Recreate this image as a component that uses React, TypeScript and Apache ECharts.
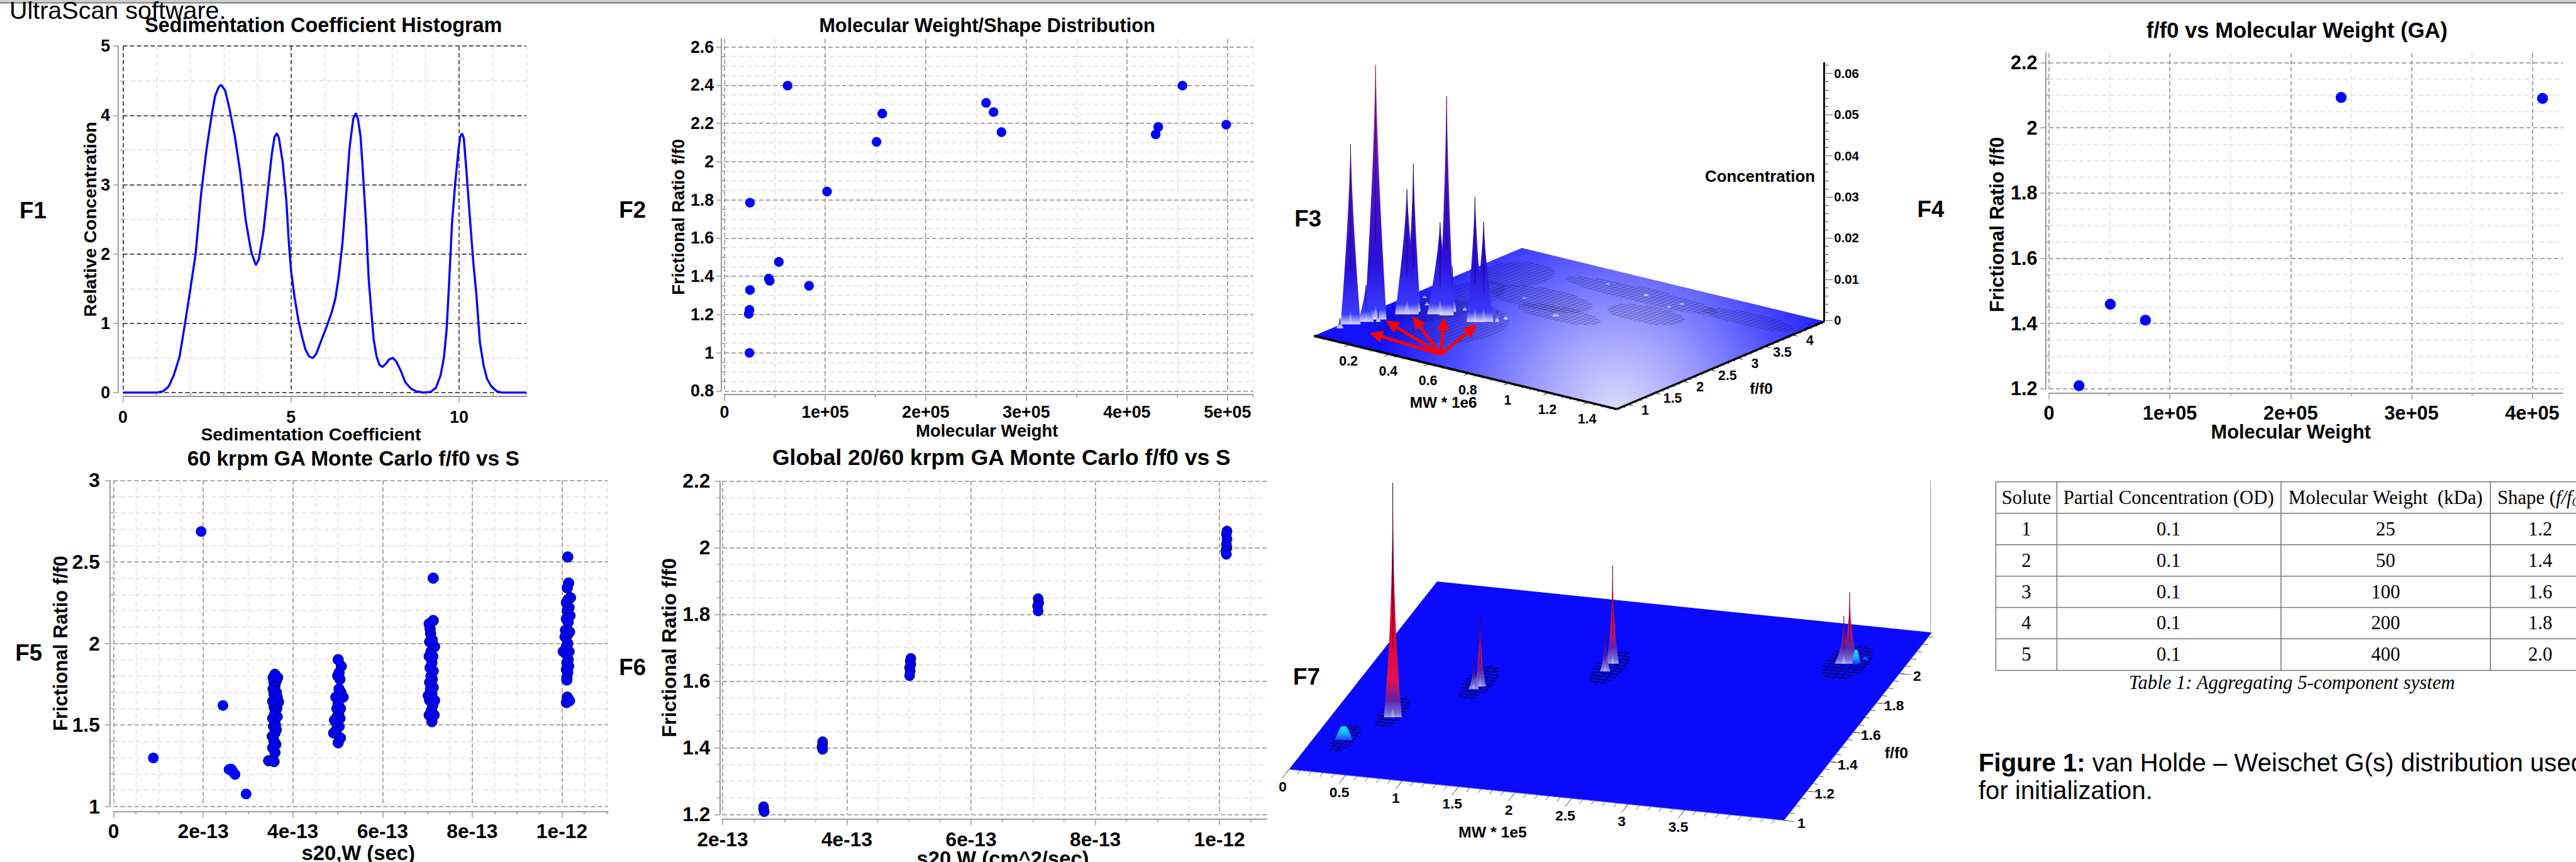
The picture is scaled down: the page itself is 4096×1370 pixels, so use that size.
import React, { useEffect, useRef } from "react";
import * as echarts from "echarts";

const S = 4096 / 4126;
const SANS = "Liberation Sans";
const SERIF = "Liberation Serif";
const BLUE = "#0000ff";

// ---------- F1 : sedimentation coefficient histogram ----------
const f1S = [0,1,1.2,1.36,1.51,1.68,1.84,2,2.16,2.32,2.48,2.64,2.74,2.85,2.92,3.04,3.17,3.33,3.49,3.65,3.81,3.95,4.04,4.18,4.32,4.43,4.51,4.58,4.64,4.75,4.86,4.93,5,5.11,5.22,5.33,5.43,5.54,5.65,5.75,5.89,6.05,6.21,6.32,6.42,6.53,6.64,6.74,6.85,6.93,6.99,7.07,7.14,7.23,7.31,7.39,7.46,7.55,7.63,7.72,7.81,7.92,8.03,8.13,8.27,8.4,8.56,8.72,8.93,9.15,9.31,9.45,9.55,9.63,9.7,9.79,9.89,9.98,10.03,10.09,10.14,10.21,10.32,10.43,10.51,10.62,10.73,10.83,10.96,11.12,11.28,12];
const f1Conc = [0,0,0.02,0.09,0.25,0.51,0.98,1.48,2,2.85,3.49,4.01,4.28,4.41,4.44,4.36,4.09,3.69,3.17,2.49,2.04,1.84,1.92,2.33,2.97,3.45,3.69,3.74,3.67,3.33,2.77,2.2,1.76,1.36,1.04,0.8,0.62,0.52,0.5,0.56,0.74,0.94,1.16,1.36,1.68,2.16,2.85,3.53,3.95,4.03,3.95,3.69,3.17,2.45,1.64,1.16,0.76,0.51,0.4,0.37,0.41,0.48,0.5,0.45,0.31,0.15,0.06,0.02,0,0.01,0.07,0.25,0.51,0.92,1.56,2.45,3.05,3.49,3.69,3.74,3.67,3.25,2.53,1.84,1.44,0.72,0.39,0.2,0.09,0.02,0,0];
const f1XMajor = [0,5,10];
const f1XMinor = [1,2,3,4,6,7,8,9,11,12];
const f1YMajor = [0,1,2,3,4,5];
const f1YMinor = [0.5,1.5,2.5,3.5,4.5];

// ---------- F2 : molecular weight / shape distribution ----------
const f2Mw = [62700,156800,260000,267400,275300,151100,428600,431200,455200,498700,101900,25300,54000,44000,44900,84000,25300,24800,24000,24800];
const f2Ff0 = [2.397,2.251,2.307,2.259,2.154,2.103,2.142,2.181,2.397,2.193,1.843,1.785,1.475,1.388,1.376,1.35,1.328,1.224,1.203,0.999];
const mwTicks2 = [0,100000,200000,300000,400000,500000];
const mwLabels2 = ["0","1e+05","2e+05","3e+05","4e+05","5e+05"];
const mwMinor2 = [50000,150000,250000,350000,450000,525000];
const ffTicks2 = [0.8,1,1.2,1.4,1.6,1.8,2,2.2,2.4,2.6];
const ffMinor2 = [0.85,0.9,0.95,1.05,1.1,1.15,1.25,1.3,1.35,1.45,1.5,1.55,1.65,1.7,1.75,1.85,1.9,1.95,2.05,2.1,2.15,2.25,2.3,2.35,2.45,2.5,2.55];

// ---------- F4 : f/f0 vs molecular weight (GA) ----------
const f4Mw = [24800,50700,79800,241800,408500];
const f4Ff0 = [1.209,1.459,1.41,2.093,2.09];
const mwTicks4 = [0,100000,200000,300000,400000];
const mwLabels4 = ["0","1e+05","2e+05","3e+05","4e+05"];
const mwMinor4 = [50000,150000,250000,350000];
const ffTicks4 = [1.2,1.4,1.6,1.8,2,2.2];
const ffMinor4 = [1.25,1.3,1.35,1.45,1.5,1.55,1.65,1.7,1.75,1.85,1.9,1.95,2.05,2.1,2.15];

// ---------- F5 : 60 krpm GA Monte Carlo (s in units of 1e-13) ----------
const f5Singles = [[0.888,1.297],[1.954,2.686],[2.44,1.619],[2.957,1.076],[2.576,1.226],[2.62,1.229],[2.646,1.221],[2.67,1.209],[2.71,1.196]];
const f5Column1 = [[3.46,1.28],[3.58,1.275],[3.6,1.33],[3.55,1.36],[3.62,1.38],[3.58,1.4],[3.54,1.43],[3.6,1.45],[3.63,1.47],[3.57,1.49],[3.61,1.5],[3.55,1.54],[3.65,1.55],[3.6,1.57],[3.64,1.6],[3.58,1.61],[3.62,1.62],[3.55,1.645],[3.68,1.64],[3.6,1.65],[3.65,1.67],[3.58,1.69],[3.63,1.7],[3.56,1.72],[3.6,1.74],[3.58,1.76],[3.63,1.77],[3.56,1.79],[3.66,1.79],[3.6,1.81]];
const f5Column2 = [[5.01,1.39],[4.91,1.45],[5.06,1.42],[4.97,1.47],[5.03,1.49],[4.95,1.52],[5.05,1.54],[4.99,1.55],[4.93,1.53],[5.02,1.57],[4.98,1.6],[5.06,1.6],[5.01,1.63],[4.96,1.67],[5.12,1.67],[5.04,1.66],[5.07,1.7],[5.03,1.72],[5.05,1.78],[5,1.8],[5.03,1.82],[5.08,1.86],[5.01,1.9]];
const f5Column3 = [[7.1,1.52],[7.04,1.56],[7.15,1.56],[7.09,1.59],[7.12,1.62],[7.05,1.65],[7.16,1.65],[7.02,1.68],[7.1,1.69],[7.07,1.72],[7.13,1.73],[7.05,1.76],[7.11,1.78],[7.08,1.8],[7.13,1.83],[7.06,1.85],[7.1,1.88],[7.04,1.92],[7.12,1.92],[7.08,1.95],[7.16,1.98],[7.1,2],[7.05,2.01],[7.11,2.02],[7.07,2.06],[7.06,2.09],[7.04,2.12],[7.13,2.14],[7.13,2.4]];
const f5Column4 = [[10.13,2.53],[10.15,2.37],[10.12,2.34],[10.19,2.28],[10.14,2.27],[10.1,2.25],[10.16,2.22],[10.12,2.2],[10.18,2.17],[10.1,2.15],[10.14,2.13],[10.08,2.08],[10.17,2.07],[10.12,2.05],[10.07,2.04],[10.13,2],[10.1,1.98],[10.16,1.95],[10.03,1.95],[10.11,1.93],[10.14,1.9],[10.11,1.88],[10.15,1.86],[10.1,1.84],[10.13,1.82],[10.11,1.79],[10.11,1.775],[10.12,1.67],[10.1,1.637],[10.17,1.648]];
const sTicks5 = [0,2,4,6,8,10];
const sLabels5 = ["0","2e-13","4e-13","6e-13","8e-13","1e-12"];
const sMinor5 = [0.5,1,1.5,2.5,3,3.5,4.5,5,5.5,6.5,7,7.5,8.5,9,9.5,10.5,11];
const ffTicks5 = [1,1.5,2,2.5,3];
const ffMinor5 = [1.1,1.2,1.3,1.4,1.6,1.7,1.8,1.9,2.1,2.2,2.3,2.4,2.6,2.7,2.8,2.9];

// ---------- F6 : global 20/60 krpm GA Monte Carlo (s in units of 1e-13) ----------
const f6Points = [[2.66,1.223],[2.66,1.215],[2.67,1.208],[3.61,1.418],[3.61,1.41],[3.6,1.402],[3.61,1.395],[5.03,1.668],[5.02,1.66],[5.03,1.65],[5.01,1.64],[5.02,1.63],[5.01,1.616],[7.08,1.847],[7.09,1.835],[7.07,1.825],[7.08,1.81],[10.12,2.05],[10.11,2.04],[10.12,2.025],[10.11,2.01],[10.12,2],[10.1,1.99],[10.11,1.98]];
const sTicks6 = [2,4,6,8,10];
const sLabels6 = ["2e-13","4e-13","6e-13","8e-13","1e-12"];
const sMinor6 = [2.5,3,3.5,4.5,5,5.5,6.5,7,7.5,8.5,9,9.5,10.5];
const ffTicks6 = [1.2,1.4,1.6,1.8,2,2.2];
const ffMinor6 = [1.25,1.3,1.35,1.45,1.5,1.55,1.65,1.7,1.75,1.85,1.9,1.95,2.05,2.1,2.15];

// ---------- F3 : 3D distribution [MW*1e6, f/f0, concentration, peak width] ----------
const f3Peaks = [
  [0.57,4.16,0.0005,0.012],[0.96,4.1,0.0006,0.014],[0.78,4.1,0.001,0.014],[0.94,3.94,0.0006,0.012],
  [0.41,3.22,0.0005,0.012],[0.646,2.94,0.0011,0.02],[0.086,2.58,0.0006,0.012],[0.51,2.52,0.0018,0.012],
  [0.31,2.5,0.001,0.012],[0.5,2.4,0.0028,0.01],[0.15,2.39,0.001,0.012],[0.28,2.38,0.0111,0.02],
  [0.457,2.31,0.0243,0.05],[0.43,2.25,0.0304,0.042],[0.29,2.24,0.0533,0.036],[0.26,2.23,0.0224,0.065],
  [0.156,2.12,0.036,0.036],[0.154,2.01,0.0304,0.06],[0.093,1.66,0.0618,0.055],[0.12,1.61,0.0031,0.012],
  [0.08,1.53,0.0089,0.04],[0.05,1.36,0.0437,0.05],[0.046,1.18,0.0025,0.018],
];
const f3Patches = [[0.2,3.83,0.15,0.45],[0.76,4.09,0.38,0.23],[0.47,3.32,0.24,0.34],[0.92,3.59,0.18,0.27],[1.29,4.13,0.23,0.21],[0.64,3.02,0.2,0.23],[0.32,2.03,0.27,0.76],[0.2,2.66,0.14,0.83]];
const f3ArrowFrom = [0.568,1.133];
const f3ArrowTips = [[0.175,1.25],[0.134,1.695],[0.187,1.99],[0.296,2.17],[0.455,2.195]];
const f3MwTicks = [0.2,0.4,0.6,0.8,1,1.2,1.4];
const f3MwLabels = ["0.2","0.4","0.6","0.8","1","1.2","1.4"];
const f3FfTicks = [1,1.5,2,2.5,3,3.5,4];
const f3FfLabels = ["1","1.5","2","2.5","3","3.5","4"];
const f3ZTicks = [0,0.01,0.02,0.03,0.04,0.05,0.06];
const f3ZMinor = [0.002,0.004,0.006,0.008,0.012,0.014,0.016,0.018,0.022,0.024,0.026,0.028,0.032,0.034,0.036,0.038,0.042,0.044,0.046,0.048,0.052,0.054,0.056,0.058,0.062];

// ---------- F7 : 3D distribution [MW*1e5, f/f0, height, peak width] ----------
const f7Peaks = [
  [4.01,2.064,0.05,0.03],[3.907,2.03,1.14,0.08],[3.96,2.034,0.22,0.04],[3.86,2.026,0.76,0.08],
  [1.967,1.876,1.57,0.055],[1.955,1.823,0.61,0.045],[1.03,1.646,1.18,0.05],[0.995,1.625,0.47,0.045],
  [0.513,1.396,3.75,0.08],[0.259,1.22,0.22,0.08],
];
const f7Patches = [[0.253,1.234,0.1,0.1],[0.48,1.428,0.11,0.11],[0.993,1.669,0.13,0.12],[1.967,1.85,0.13,0.12],[3.88,2.036,0.19,0.12]];
const f7MwTicks = [0,0.5,1,1.5,2,2.5,3,3.5];
const f7MwLabels = ["0","0.5","1","1.5","2","2.5","3","3.5"];
const f7FfTicks = [1,1.2,1.4,1.6,1.8,2];
const f7FfLabels = ["1","1.2","1.4","1.6","1.8","2"];

// ---------- Table ----------
const tableHeader = ["Solute","Partial Concentration (OD)","Molecular Weight  (kDa)"];
const tableSolute = ["1","2","3","4","5"];
const tablePartial = ["0.1","0.1","0.1","0.1","0.1"];
const tableMw = ["25","50","100","200","400"];
const tableShape = ["1.2","1.4","1.6","1.8","2.0"];
const panelTags = ["F1","F2","F3","F4","F5","F6","F7"];

const zip = (a: number[], b: number[]) => a.map((v, i) => [v, b[i]]);
const px = (v: number) => v * S;

type Panel = {
  l: number; r: number; t: number; b: number;
  xr: [number, number]; yr: [number, number];
  xMajor: number[]; xMinor: number[]; yMajor: number[]; yMinor: number[];
  xLabels?: string[]; xOff: number; yOff: number;
  tickFont: number; xMargin: number; yMargin: number;
  majorColor: string;
  xName: string; xNameFont: number; xGap: number; xShift: number;
  yName: string; yNameFont: number; yGap: number; yShift: number;
};

function App() {
  const ref = useRef<HTMLDivElement>(null);
  useEffect(() => {
    const chart = echarts.init(ref.current!, undefined, { renderer: "svg" });

    const grids: any[] = [];
    const xAxes: any[] = [];
    const yAxes: any[] = [];
    const axisLine = { show: true, onZero: false, lineStyle: { color: "#9a9a9a", width: 2 } };

    const addPanel = (p: Panel) => {
      const gridIndex = grids.length;
      grids.push({ left: px(p.l), top: px(p.t), width: px(p.r - p.l), height: px(p.b - p.t), containLabel: false, outerBoundsMode: "none" });
      const minorSplit = { show: true, lineStyle: { color: "#dcdcdc", width: 1.4, type: [7, 5] } };
      const majorSplit = { show: true, lineStyle: { color: p.majorColor, width: 1.5, type: [7, 4] } };
      const tick = (n: number) => ({ show: true, length: n, lineStyle: { color: "#9a9a9a", width: 1.5 } });
      const fmtX = (v: number) => {
        const i = p.xMajor.indexOf(v);
        return p.xLabels && i >= 0 ? p.xLabels[i] : String(v);
      };
      const labelStyle = { fontSize: px(p.tickFont), fontWeight: "bold", fontFamily: SANS, color: "#000" };
      xAxes.push({
        type: "value", gridIndex, position: "bottom", offset: px(p.xOff), min: p.xr[0], max: p.xr[1],
        axisLine: { show: false }, axisLabel: { show: false },
        axisTick: { ...tick(5), customValues: p.xMinor }, splitLine: minorSplit,
      });
      const xIndex = xAxes.length;
      xAxes.push({
        type: "value", gridIndex, position: "bottom", offset: px(p.xOff), min: p.xr[0], max: p.xr[1],
        axisLine,
        axisTick: { ...tick(10), customValues: p.xMajor },
        axisLabel: { ...labelStyle, show: true, customValues: p.xMajor, margin: px(p.xMargin), formatter: fmtX },
        splitLine: majorSplit,
        name: p.xName, nameLocation: "middle", nameGap: px(p.xGap), nameMoveOverlap: false,
        nameTextStyle: {
          fontSize: px(p.xNameFont), fontWeight: "bold", fontFamily: SANS, color: "#000",
          padding: p.xShift < 0 ? [0, -2 * px(p.xShift), 0, 0] : [0, 0, 0, 2 * px(p.xShift)],
        },
      });
      yAxes.push({
        type: "value", gridIndex, position: "left", offset: px(p.yOff), min: p.yr[0], max: p.yr[1],
        axisLine: { show: false }, axisLabel: { show: false },
        axisTick: { ...tick(4), customValues: p.yMinor }, splitLine: minorSplit,
      });
      const yIndex = yAxes.length;
      yAxes.push({
        type: "value", gridIndex, position: "left", offset: px(p.yOff), min: p.yr[0], max: p.yr[1],
        axisLine,
        axisTick: { ...tick(8), customValues: p.yMajor },
        axisLabel: { ...labelStyle, show: true, customValues: p.yMajor, margin: px(p.yMargin), formatter: (v: number) => String(v) },
        splitLine: majorSplit,
        name: p.yName, nameLocation: "middle", nameRotate: 90, nameGap: px(p.yGap), nameMoveOverlap: false,
        nameTextStyle: {
          fontSize: px(p.yNameFont), fontWeight: "bold", fontFamily: SANS, color: "#000",
          padding: p.yShift > 0 ? [0, 2 * px(p.yShift), 0, 0] : [0, 0, 0, -2 * px(p.yShift)],
        },
      });
      return { xAxisIndex: xIndex, yAxisIndex: yIndex };
    };

    const a1 = addPanel({
      l: 197, r: 843, t: 73.7, b: 628.6, xr: [0, 12], yr: [0, 5],
      xMajor: f1XMajor, xMinor: f1XMinor, yMajor: f1YMajor, yMinor: f1YMinor,
      xOff: 5.5, yOff: 7.5, tickFont: 27, xMargin: 20, yMargin: 13, majorColor: "#222",
      xName: "Sedimentation Coefficient", xNameFont: 28.6, xGap: 47, xShift: -22,
      yName: "Relative Concentration", yNameFont: 28.7, yGap: 31, yShift: 0,
    });
    const a2 = addPanel({
      l: 1160.5, r: 2007, t: 62.5, b: 625.9, xr: [0, 525400], yr: [0.8, 2.641],
      xMajor: mwTicks2, xLabels: mwLabels2, xMinor: mwMinor2, yMajor: ffTicks2, yMinor: ffMinor2,
      xOff: 5.8, yOff: 5, tickFont: 27, xMargin: 15, yMargin: 12, majorColor: "#8a8a8a",
      xName: "Molecular Weight", xNameFont: 27.6, xGap: 44, xShift: -3,
      yName: "Frictional Ratio f/f0", yNameFont: 27.6, yGap: 56, yShift: 3,
    });
    const a4 = addPanel({
      l: 3282, r: 4104.7, t: 85, b: 622.2, xr: [0, 425200], yr: [1.2, 2.229],
      xMajor: mwTicks4, xLabels: mwLabels4, xMinor: mwMinor4, yMajor: ffTicks4, yMinor: ffMinor4,
      xOff: 6.8, yOff: 5.6, tickFont: 31, xMargin: 17, yMargin: 13, majorColor: "#8a8a8a",
      xName: "Molecular Weight", xNameFont: 31, xGap: 47, xShift: -24,
      yName: "Frictional Ratio f/f0", yNameFont: 31, yGap: 62, yShift: 6,
    });
    const a5 = addPanel({
      l: 181.8, r: 974, t: 769, b: 1291, xr: [0, 11.03], yr: [1, 3],
      xMajor: sTicks5, xLabels: sLabels5, xMinor: sMinor5, yMajor: ffTicks5, yMinor: ffMinor5,
      xOff: 8, yOff: 5.8, tickFont: 32, xMargin: 16, yMargin: 16, majorColor: "#8a8a8a",
      xName: "s20,W (sec)", xNameFont: 33, xGap: 50, xShift: -4,
      yName: "Frictional Ratio f/f0", yNameFont: 31, yGap: 63, yShift: 0,
    });
    const a6 = addPanel({
      l: 1157.4, r: 2029, t: 770, b: 1303.8, xr: [2, 10.76], yr: [1.2, 2.2],
      xMajor: sTicks6, xLabels: sLabels6, xMinor: sMinor6, yMajor: ffTicks6, yMinor: ffMinor6,
      xOff: 7.2, yOff: 4.7, tickFont: 32, xMargin: 17, yMargin: 15, majorColor: "#8a8a8a",
      xName: "s20,W (cm^2/sec)", xNameFont: 33, xGap: 47, xShift: 13,
      yName: "Frictional Ratio f/f0", yNameFont: 31.7, yGap: 65, yShift: 0,
    });

    // Concentration axis of F3: a real value axis along the right-hand upright.
    const zGrid = grids.length;
    grids.push({ left: px(2920.7), top: px(101), width: px(1), height: px(412), outerBoundsMode: "none" });
    xAxes.push({ type: "value", gridIndex: zGrid, show: false, min: 0, max: 1 });
    const zCommon = { type: "value", gridIndex: zGrid, position: "right", min: 0, max: 0.0625, splitLine: { show: false } };
    yAxes.push({ ...zCommon, axisLine: { show: false }, axisLabel: { show: false },
      axisTick: { show: true, length: 8, customValues: f3ZMinor, lineStyle: { color: "#444", width: 1 } } });
    yAxes.push({ ...zCommon, axisLine: { show: true, onZero: false, lineStyle: { color: "#000", width: 3 } },
      axisTick: { show: true, length: 14, customValues: f3ZTicks, lineStyle: { color: "#777", width: 1.2 } },
      axisLabel: { show: true, customValues: f3ZTicks, margin: px(16), fontSize: px(20.5), fontWeight: "bold", fontFamily: SANS, color: "#000", formatter: (v: number) => String(v) } });

    // ---- 3D floors -----
    type Floor = { L: number[]; F: number[]; B: number[]; mw: number[]; ff: number[] };
    const floor3: Floor = { L: [2104.5, 537.7], F: [2589.6, 655], B: [2437.5, 397], mw: [0.02, 1.543], ff: [0.8, 4.59] };
    const floor7: Floor = { L: [2064.6, 1231.8], F: [2857.3, 1313.5], B: [2301.7, 931], mw: [0, 4.38], ff: [1, 2.279] };
    const project = (fl: Floor, mw: number, ff: number) => {
      const u = (mw - fl.mw[0]) / (fl.mw[1] - fl.mw[0]);
      const v = (ff - fl.ff[0]) / (fl.ff[1] - fl.ff[0]);
      return [
        px(fl.L[0] + u * (fl.F[0] - fl.L[0]) + v * (fl.B[0] - fl.L[0])),
        px(fl.L[1] + u * (fl.F[1] - fl.L[1]) + v * (fl.B[1] - fl.L[1])),
      ];
    };
    const corners = (fl: Floor) => [
      project(fl, fl.mw[0], fl.ff[0]), project(fl, fl.mw[1], fl.ff[0]),
      project(fl, fl.mw[1], fl.ff[1]), project(fl, fl.mw[0], fl.ff[1]),
    ];

    const floorSeries = (fl: Floor, fill: any, z: number) => ({
      type: "custom", coordinateSystem: "none", silent: true, z, data: [[0]],
      renderItem: () => ({ type: "polygon", shape: { points: corners(fl) }, style: { fill } }),
    });

    const hatchSeries = (fl: Floor, patches: number[][], stepMw: number, stepFf: number, color: string, width: number, z: number) => ({
      type: "custom", coordinateSystem: "none", silent: true, z, data: patches,
      renderItem: (_: any, api: any) => {
        const [m, f, rm, rf] = [api.value(0), api.value(1), api.value(2), api.value(3)];
        const children: any[] = [];
        const seg = (a: number[], b: number[]) => children.push({
          type: "line", shape: { x1: a[0], y1: a[1], x2: b[0], y2: b[1] }, style: { stroke: color, lineWidth: width },
        });
        for (let d = -rf; d <= rf; d += stepFf) {
          const e = rm * Math.sqrt(Math.max(0, 1 - (d / rf) ** 2));
          seg(project(fl, m - e, f + d), project(fl, m + e, f + d));
        }
        for (let d = -rm; d <= rm; d += stepMw) {
          const e = rf * Math.sqrt(Math.max(0, 1 - (d / rm) ** 2));
          seg(project(fl, m + d, f - e), project(fl, m + d, f + e));
        }
        return { type: "group", children };
      },
    });

    const mwPxScale = (fl: Floor) => px((fl.F[0] - fl.L[0]) / (fl.mw[1] - fl.mw[0]));
    const spike = (x: number, y: number, h: number, w: number, fill: any, pow: number, tip: number) => {
      const left: number[][] = [];
      const right: number[][] = [];
      for (let i = 0; i <= 16; i++) {
        const t = i / 16;
        const half = (w - tip) * Math.pow(1 - t, pow) + tip;
        left.push([x - half, y - h * t]);
        right.unshift([x + half, y - h * t]);
      }
      return { type: "polygon", shape: { points: left.concat(right) }, style: { fill } };
    };

    const peakSeries = (fl: Floor, data: number[][], zPx: number, zMax: number, ramp: (z: number) => any[], z: number, pale: number, pow: number, glow: number) => ({
      type: "custom", coordinateSystem: "none", silent: true, z, data,
      renderItem: (_: any, api: any) => {
        const val = api.value(2);
        const [x, y] = project(fl, api.value(0), api.value(1));
        const h = val * zPx;
        const w = api.value(3) * mwPxScale(fl);
        const fill = new echarts.graphic.LinearGradient(0, y, 0, y - zMax * zPx, ramp(val).map(([offset, color]: any) => ({ offset, color })), true);
        const low = val < pale;
        const children: any[] = [spike(x, y, h, w, fill, low ? 0.8 : pow, low ? w * 0.25 : 0.4)];
        if (!low) {
          children.push({ type: "line", shape: { x1: x, y1: y - h * 0.3, x2: x, y2: y - h }, style: { stroke: "rgba(0,0,0,0.6)", lineWidth: 1 } });
          const hl = Math.min(h * 0.22, px(glow));
          children.push({ type: "polygon", shape: { points: [[x - w * 0.25, y], [x + w * 0.25, y], [x, y - hl]] }, style: { fill: "rgba(225,225,255,0.35)" } });
        }
        return { type: "group", children };
      },
    });

    const ramp3 = () => [[0, "#d8d8ff"], [0.04, "#3a3aff"], [0.22, "#2a10d8"], [0.5, "#4a12c8"], [0.78, "#8a18c0"], [0.93, "#c03080"], [1, "#ff5020"]];
    const ramp7 = (v: number) => v < 0.3
      ? [[0, "#1040ff"], [0.025, "#20a0ff"], [0.06, "#00ffff"], [1, "#00ffff"]]
      : [[0, "#a0a0e8"], [0.02, "#7068d8"], [0.07, "#6020a8"], [0.16, "#e01050"], [0.42, "#e00030"], [0.68, "#900030"], [1, "#300010"]];

    const arrowSeries = {
      type: "custom", coordinateSystem: "none", silent: true, z: 8, data: f3ArrowTips,
      renderItem: (_: any, api: any) => {
        const o = project(floor3, f3ArrowFrom[0], f3ArrowFrom[1]);
        const t = project(floor3, api.value(0), api.value(1));
        const len = Math.hypot(t[0] - o[0], t[1] - o[1]);
        const ux = (t[0] - o[0]) / len, uy = (t[1] - o[1]) / len;
        const head = px(21), wing = px(10);
        const bx = t[0] - ux * head, by = t[1] - uy * head;
        return {
          type: "group",
          children: [
            { type: "line", shape: { x1: o[0], y1: o[1], x2: bx, y2: by }, style: { stroke: "#ff0000", lineWidth: px(5) } },
            { type: "polygon", shape: { points: [t, [bx - uy * wing, by + ux * wing], [bx + uy * wing, by - ux * wing]] }, style: { fill: "#ff0000" } },
          ],
        };
      },
    };

    // ---- graphic texts and lines ----
    const txt = (text: string, x: number, y: number, size: number, opt: any = {}) => ({
      type: "text", x: px(x), y: px(y), z: 20,
      style: {
        text, fontSize: px(size), fontFamily: opt.family || SANS, fontWeight: opt.weight || "normal", fontStyle: opt.style || "normal",
        fill: "#000", align: opt.align || "center", textAlign: opt.align || "center", verticalAlign: "middle", textVerticalAlign: "middle",
        ...(opt.rich ? { rich: opt.rich } : {}),
      },
    });
    const ln = (x1: number, y1: number, x2: number, y2: number, stroke: string, lineWidth: number) => ({
      type: "line", z: 12, shape: { x1, y1, x2, y2 }, style: { stroke, lineWidth },
    });

    const floorAxes = (fl: Floor, mwT: number[], mwL: string[], ffT: number[], ffL: string[], mwMinorStep: number, ffMinorStep: number, opts: any) => {
      const out: any[] = [];
      const ldu = Math.hypot(fl.B[0] - fl.L[0], fl.B[1] - fl.L[1]);
      const vDir = [(fl.B[0] - fl.L[0]) / ldu, (fl.B[1] - fl.L[1]) / ldu];
      const ldv = Math.hypot(fl.F[0] - fl.L[0], fl.F[1] - fl.L[1]);
      const uDir = [(fl.F[0] - fl.L[0]) / ldv, (fl.F[1] - fl.L[1]) / ldv];
      const c = corners(fl);
      out.push(ln(c[0][0], c[0][1], c[1][0], c[1][1], opts.edge, opts.edgeWidth));
      out.push(ln(c[1][0], c[1][1], c[2][0], c[2][1], opts.edge, opts.edgeWidth));
      const tickMw = (m: number, len: number) => {
        const p = project(fl, m, fl.ff[0]);
        out.push(ln(p[0], p[1], p[0] - vDir[0] * len * S, p[1] - vDir[1] * len * S, opts.tick, 1));
      };
      const tickFf = (f: number, len: number) => {
        const p = project(fl, fl.mw[1], f);
        out.push(ln(p[0], p[1], p[0] + uDir[0] * len * S, p[1] + uDir[1] * len * S, opts.tick, 1));
      };
      for (let m = Math.ceil(fl.mw[0] / mwMinorStep); m * mwMinorStep <= fl.mw[1]; m++) tickMw(m * mwMinorStep, opts.minor);
      for (let f = Math.ceil(fl.ff[0] / ffMinorStep); f * ffMinorStep <= fl.ff[1]; f++) tickFf(f * ffMinorStep, opts.minor);
      mwT.forEach((m, i) => {
        tickMw(m, opts.major);
        const p = project(fl, m, fl.ff[0]);
        out.push(txt(mwL[i], p[0] / S + opts.mwLab[0], p[1] / S + opts.mwLab[1], opts.font, { weight: "bold" }));
      });
      ffT.forEach((f, i) => {
        tickFf(f, opts.major);
        const p = project(fl, fl.mw[1], f);
        out.push(txt(ffL[i], p[0] / S + opts.ffLab[0], p[1] / S + opts.ffLab[1], opts.font, { weight: "bold" }));
      });
      return out;
    };

    const tableLines = () => {
      const out: any[] = [];
      const rows = [771.4, 821.6, 872.2, 922.4, 972.6, 1022.7, 1073.3];
      const cols = [3196.7, 3294.5, 3653.4, 3988.8];
      rows.forEach((y) => out.push(ln(px(3196.7), px(y), px(4126), px(y), "#777", 1.5)));
      cols.forEach((x) => out.push(ln(px(x), px(771.4), px(x), px(1073.3), "#777", 1.5)));
      const centers = [3245.6, 3473.5, 3821];
      const tf = { family: SERIF };
      tableHeader.forEach((h, i) => out.push(txt(h, centers[i], 797, 31, tf)));
      tableSolute.forEach((v, i) => {
        const y = (rows[i + 1] + rows[i + 2]) / 2;
        out.push(txt(v, centers[0], y, 31, tf));
        out.push(txt(tablePartial[i], centers[1], y, 31, tf));
        out.push(txt(tableMw[i], centers[2], y, 31, tf));
        out.push(txt(tableShape[i], 4068.8, y, 31, tf));
      });
      out.push(txt("{n|Shape (}{i|f/f}{s|0}{n|)}", 4000, 797, 31, {
        family: SERIF, align: "left",
        rich: {
          n: { fontFamily: SERIF, fontSize: px(31) },
          i: { fontFamily: SERIF, fontSize: px(31), fontStyle: "italic" },
          s: { fontFamily: SERIF, fontSize: px(20), fontStyle: "italic", verticalAlign: "bottom" },
        },
      }));
      out.push(txt("Table 1: Aggregating 5-component system", 3671, 1093, 31, { family: SERIF, style: "italic" }));
      return out;
    };

    const tagPos = [[52.8, 337], [1013, 336], [2095, 350], [3092.5, 335], [46, 1045.5], [1013, 1068], [2092.6, 1083.5]];

    const graphics: any[] = [
      { type: "rect", z: 11, shape: { x: 0, y: 0, width: px(4126), height: px(3.5) }, style: { fill: "#cfcfcf" } },
      ln(0, px(4.5), px(4126), px(4.5), "#777", 2),
      txt("UltraScan software.", 15, 16, 39.8, { align: "left" }),
      ...panelTags.map((t, i) => txt(t, tagPos[i][0], tagPos[i][1], 37, { weight: "bold" })),
      ...floorAxes(floor3, f3MwTicks, f3MwLabels, f3FfTicks, f3FfLabels, 0.04, 0.1, {
        edge: "#000", edgeWidth: 3.5, tick: "#333", minor: 5, major: 9, font: 21.5, mwLab: [-2, 27], ffLab: [28, 9],
      }),
      ...floorAxes(floor7, f7MwTicks, f7MwLabels, f7FfTicks, f7FfLabels, 0.1, 0.05, {
        edge: "#8a8aff", edgeWidth: 1, tick: "#555", minor: 8, major: 17, font: 23, mwLab: [-10, 27], ffLab: [28, 4],
      }),
      txt("Concentration", 2819, 282, 26, { weight: "bold" }),
      txt("MW * 1e6", 2312, 644.5, 24.5, { weight: "bold" }),
      txt("f/f0", 2821, 622, 24.5, { weight: "bold" }),
      txt("MW * 1e5", 2390.8, 1332.4, 25, { weight: "bold" }),
      txt("f/f0", 3037.5, 1205, 25, { weight: "bold" }),
      ln(px(3092.3), px(769), px(3092.3), px(1013.4), "#aaa", 1.2),
      ...tableLines(),
      txt("{b|Figure 1:}{n| van Holde – Weischet G(s) distribution used}", 3169, 1221.4, 40.5, {
        align: "left",
        rich: {
          b: { fontFamily: SANS, fontSize: px(40.5), fontWeight: "bold" },
          n: { fontFamily: SANS, fontSize: px(40.5) },
        },
      }),
      txt("for initialization.", 3169, 1266, 40.5, { align: "left" }),
    ];

    const titleOf = (text: string, x: number, y: number, size: number) => ({
      text, left: px(x), top: px(y), textAlign: "center", textVerticalAlign: "middle", padding: 0,
      textStyle: { fontSize: px(size), fontWeight: "bold", fontFamily: SANS, color: "#000" },
    });

    const scatter = (axes: any, data: number[][], size: number, border: boolean) => ({
      type: "scatter", ...axes, data, symbol: "circle", symbolSize: px(size), silent: true, z: 5,
      itemStyle: { color: BLUE, opacity: 1, ...(border ? { borderColor: "#000048", borderWidth: 0.9 } : {}) },
    });

    const option: any = {
      animation: false,
      backgroundColor: "#fff",
      tooltip: { show: false },
      textStyle: { fontFamily: SANS },
      title: [
        titleOf("Sedimentation Coefficient Histogram", 518, 40, 32.6),
        titleOf("Molecular Weight/Shape Distribution", 1581, 40, 30.9),
        titleOf("f/f0 vs Molecular Weight (GA)", 3679, 48, 34.8),
        titleOf("60 krpm GA Monte Carlo f/f0 vs S", 566, 734, 33.8),
        titleOf("Global 20/60 krpm GA Monte Carlo f/f0 vs S", 1604, 732, 35.8),
      ],
      grid: grids,
      xAxis: xAxes,
      yAxis: yAxes,
      graphic: { elements: graphics },
      series: [
        { type: "line", ...a1, data: zip(f1S, f1Conc), symbol: "none", silent: true, lineStyle: { color: BLUE, width: 3.4 } },
        scatter(a2, zip(f2Mw, f2Ff0), 15.5, false),
        scatter(a4, zip(f4Mw, f4Ff0), 17.5, false),
        scatter(a5, f5Singles, 17, false),
        scatter(a5, f5Column1, 17, true),
        scatter(a5, f5Column2, 17, true),
        scatter(a5, f5Column3, 17, true),
        scatter(a5, f5Column4, 17, true),
        scatter(a6, f6Points, 16, true),
        floorSeries(floor3, new echarts.graphic.RadialGradient(px(2589.6), px(655), px(390), [
          { offset: 0, color: "#dcdcff" }, { offset: 0.35, color: "#9a9aff" }, { offset: 0.7, color: "#4a4aff" }, { offset: 1, color: "#1212ff" },
        ], true), 3),
        hatchSeries(floor3, f3Patches, 0.024, 0.065, "rgba(0,0,40,0.45)", 0.6, 4),
        peakSeries(floor3, f3Peaks, px(6590), 0.0618, ramp3, 6, 0, 1.45, 22),
        arrowSeries,
        floorSeries(floor7, "#0a0aff", 3),
        hatchSeries(floor7, f7Patches, 0.06, 0.02, "rgba(0,0,20,0.95)", 1, 4),
        peakSeries(floor7, f7Peaks, px(100), 3.75, ramp7, 6, 0.3, 2.4, 14),
      ],
    };
    chart.setOption(option);
    return () => chart.dispose();
  }, []);
  return <div ref={ref} style={{ position: "absolute", left: 0, top: 0, width: 4096, height: 1370 }} />;
}

export default App;
